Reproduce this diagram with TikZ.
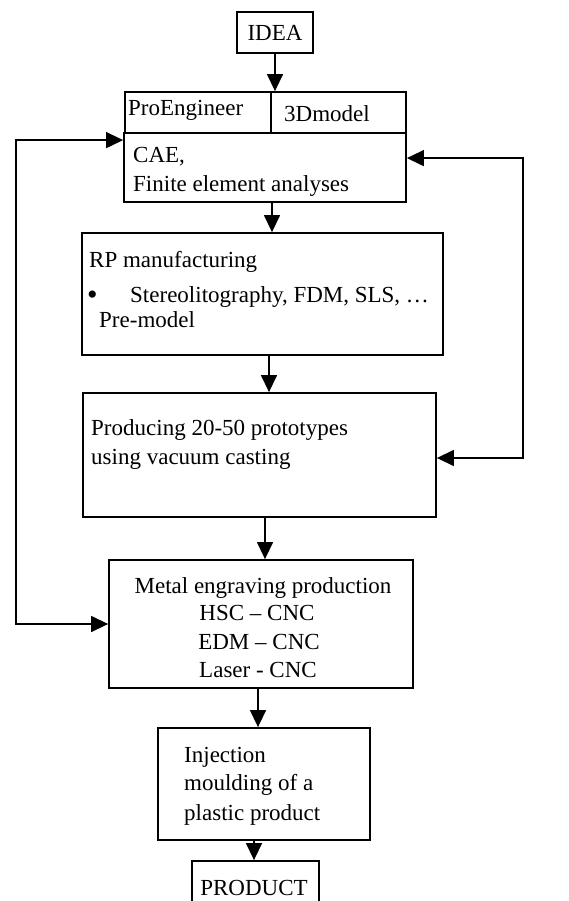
\documentclass[tikz,border=0pt]{standalone}
\usepackage{fontspec}
\setmainfont{Liberation Serif}
\usetikzlibrary{arrows.meta}
\begin{document}
\begin{tikzpicture}[x=1pt,y=-1pt,
  box/.style={draw,line width=1.8pt,inner sep=0pt,minimum width=#1},
  txt/.style={inner sep=0pt,anchor=base west,font=\fontsize{23}{28.5}\selectfont},
  ctxt/.style={inner sep=0pt,anchor=base,font=\fontsize{23}{28.5}\selectfont},
  arr/.style={line width=1.4pt,-{Triangle[length=17pt,width=16pt]}},
  darr/.style={line width=1.4pt,{Triangle[length=17pt,width=16pt]}-{Triangle[length=17pt,width=16pt]}}]
\useasboundingbox[fill=white] (0,0) rectangle (569,901);
% boxes
\node[box=76pt,minimum height=41pt] (idea) at (275,32.5) {};
\node[box=146pt,minimum height=41pt] (pro) at (198,112.5) {};
\node[box=135pt,minimum height=41pt] (model) at (338.5,112.5) {};
\node[box=282pt,minimum height=69pt] (cae) at (265,167.5) {};
\node[box=361pt,minimum height=122pt] (rp) at (262.5,294) {};
\node[box=353pt,minimum height=124pt] (prod) at (259.5,455) {};
\node[box=304pt,minimum height=128pt] (metal) at (261,624) {};
\node[box=212pt,minimum height=112pt] (inj) at (264,784) {};
\node[box=127pt,minimum height=49pt] (product) at (255.5,885.5) {};
% texts
\node[ctxt] (tidea) at (275,41) {IDEA};
\node[txt] (tpro) at (128,116) {ProEngineer};
\node[txt] (tmodel) at (284,122) {3Dmodel};
\node[txt] (tcae1) at (133,163) {CAE,};
\node[txt] (tcae2) at (133,192) {Finite element analyses};
\node[txt] (trp1) at (89,267) {RP manufacturing};
\node[txt,font=\fontsize{30}{30}\selectfont] (tbul) at (87,304) {•};
\node[txt] (trp2) at (130,302) {Stereolitography, FDM, SLS, …};
\node[txt] (trp3) at (99,327) {Pre-model};
\node[txt] (tprod1) at (91,435) {Producing 20-50 prototypes};
\node[txt] (tprod2) at (91,464) {using vacuum casting};
\node[ctxt] (tm1) at (263,593) {Metal engraving production};
\node[ctxt] (tm2) at (257,620) {HSC – CNC};
\node[ctxt] (tm3) at (259,649) {EDM – CNC};
\node[ctxt] (tm4) at (258,677) {Laser - CNC};
\node[txt] (ti1) at (184,762) {Injection};
\node[txt] (ti2) at (184,790) {moulding of a};
\node[txt] (ti3) at (184,820) {plastic product};
\node[ctxt] (tproduct) at (254,895) {PRODUCT};
% arrows
\draw[arr] (idea.south) -- (idea.south |- model.north);
\draw[arr] ([xshift=7pt]cae.south) -- ([xshift=7pt]cae.south |- rp.north);
\draw[arr] ([xshift=6.5pt]rp.south) -- ([xshift=6.5pt]rp.south |- prod.north);
\draw[arr] ([xshift=5.5pt]prod.south) -- ([xshift=5.5pt]prod.south |- metal.north);
\draw[arr] ([xshift=-3pt]metal.south) -- ([xshift=-3pt]metal.south |- inj.north);
\draw[arr] ([xshift=-10pt]inj.south) -- ([xshift=-10pt]inj.south |- product.north);
% feedback loops
\draw[darr] ([yshift=-8pt]cae.north west) -| ++(-107,0) |- (metal.west);
\draw[darr] ([yshift=-26pt]cae.north east) -| ++(116,0) |- ([yshift=-3pt]prod.east);
\end{tikzpicture}
\end{document}
